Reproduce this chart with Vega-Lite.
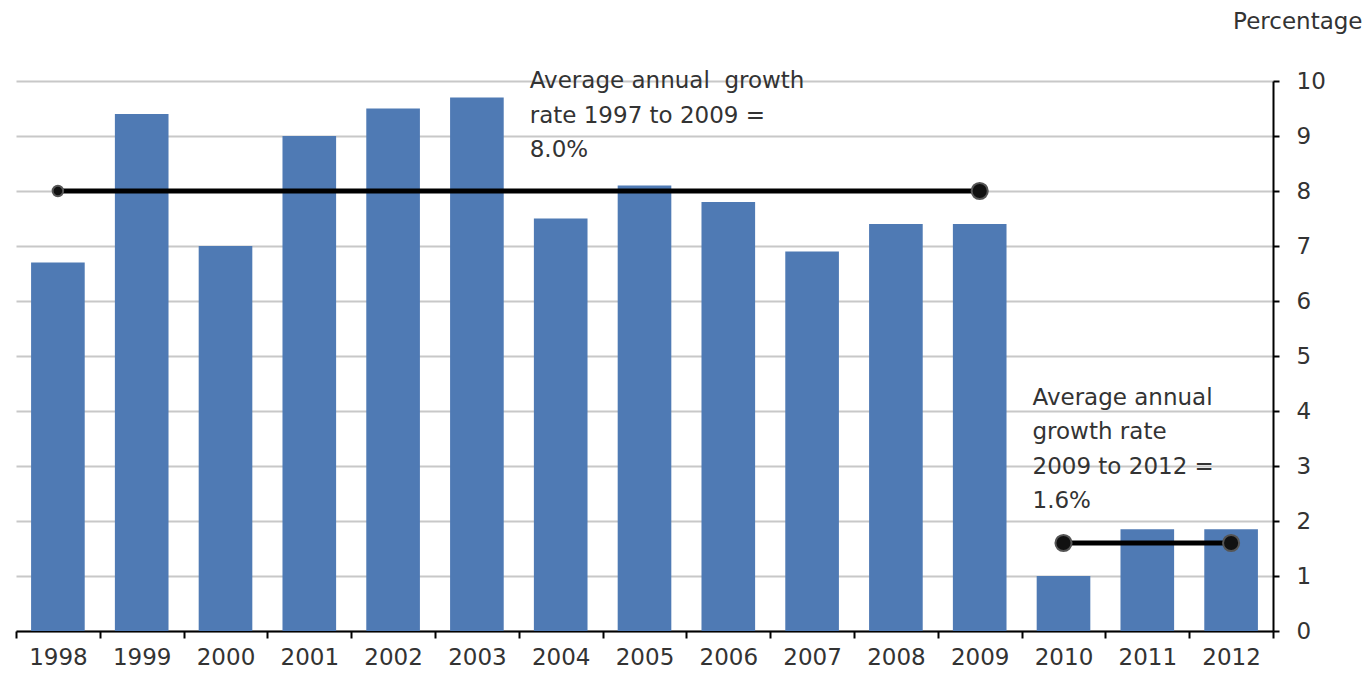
{
  "$schema": "https://vega.github.io/schema/vega-lite/v6.json",
  "autosize": "none",
  "padding": {"left": 16, "top": 81, "right": 99, "bottom": 49},
  "width": 1257,
  "height": 550,
  "background": "white",
  "config": {
    "view": {"stroke": null},
    "font": "DejaVu Sans",
    "axis": {"labelFont": "DejaVu Sans", "titleFont": "DejaVu Sans"}
  },
  "datasets": {
    "bars": [
      {"year": "1998", "value": 6.7},
      {"year": "1999", "value": 9.4},
      {"year": "2000", "value": 7.0},
      {"year": "2001", "value": 9.0},
      {"year": "2002", "value": 9.5},
      {"year": "2003", "value": 9.7},
      {"year": "2004", "value": 7.5},
      {"year": "2005", "value": 8.1},
      {"year": "2006", "value": 7.8},
      {"year": "2007", "value": 6.9},
      {"year": "2008", "value": 7.4},
      {"year": "2009", "value": 7.4},
      {"year": "2010", "value": 1.0},
      {"year": "2011", "value": 1.85},
      {"year": "2012", "value": 1.85}
    ],
    "avglines": [
      {"start": "1998", "end": "2009", "value": 8.0},
      {"start": "2010", "end": "2012", "value": 1.6}
    ],
    "dots": [
      {"year": "1998", "value": 8.0, "kind": "small"},
      {"year": "2009", "value": 8.0, "kind": "large"},
      {"year": "2010", "value": 1.6, "kind": "large"},
      {"year": "2012", "value": 1.6, "kind": "large"}
    ],
    "notes": [
      {"year": "2004", "value": 9.87, "label": "Average annual\u00a0\u00a0growth\nrate 1997 to 2009 =\n8.0%"},
      {"year": "2010", "value": 4.11, "label": "Average annual\ngrowth rate\n2009 to 2012 =\n1.6%"}
    ]
  },
  "layer": [
    {
      "data": {"name": "bars"},
      "mark": {"type": "bar", "color": "#4f7ab4", "width": {"band": 0.64}},
      "encoding": {
        "x": {
          "field": "year", "type": "nominal", "sort": null,
          "scale": {"paddingInner": 0, "paddingOuter": 0},
          "axis": {
            "title": null, "labelAngle": 0, "labelFontSize": 23, "labelColor": "#333333",
            "domainColor": "#000000", "domainWidth": 2, "tickColor": "#000000", "tickWidth": 2,
            "tickSize": 7, "tickBand": "extent", "labelPadding": 8, "grid": false
          }
        },
        "y": {
          "field": "value", "type": "quantitative",
          "scale": {"domain": [0, 10], "nice": false},
          "axis": {
            "orient": "right", "values": [0,1,2,3,4,5,6,7,8,9,10],
            "title": "Percentage", "titleAngle": 0, "titleAlign": "right", "titleBaseline": "alphabetic",
            "titleX": 89, "titleY": -53, "titleFontSize": 23, "titleFontWeight": "normal", "titleColor": "#333333",
            "labelFontSize": 23, "labelColor": "#333333", "labelPadding": 17,
            "domainColor": "#000000", "domainWidth": 2, "tickColor": "#000000", "tickWidth": 2, "tickSize": 6,
            "grid": true, "gridColor": "#c8c8c8", "gridWidth": 2
          }
        }
      }
    },
    {
      "data": {"name": "avglines"},
      "mark": {"type": "rule", "color": "#000000", "strokeWidth": 5},
      "encoding": {
        "x": {"field": "start", "type": "nominal", "sort": null},
        "x2": {"field": "end"},
        "y": {"field": "value", "type": "quantitative"}
      }
    },
    {
      "data": {"name": "dots"},
      "mark": {"type": "point", "filled": true, "color": "#111111", "stroke": "#555555", "strokeWidth": 2, "opacity": 1},
      "encoding": {
        "x": {"field": "year", "type": "nominal", "sort": null},
        "y": {"field": "value", "type": "quantitative"},
        "size": {"field": "kind", "type": "nominal", "scale": {"domain": ["small", "large"], "range": [110, 260]}, "legend": null}
      }
    },
    {
      "data": {"name": "notes"},
      "mark": {"type": "text", "align": "left", "baseline": "alphabetic", "lineBreak": "\n", "lineHeight": 34.5, "fontSize": 23, "color": "#333333", "dx": -31},
      "encoding": {
        "x": {"field": "year", "type": "nominal", "sort": null},
        "y": {"field": "value", "type": "quantitative"},
        "text": {"field": "label"}
      }
    }
  ]
}
